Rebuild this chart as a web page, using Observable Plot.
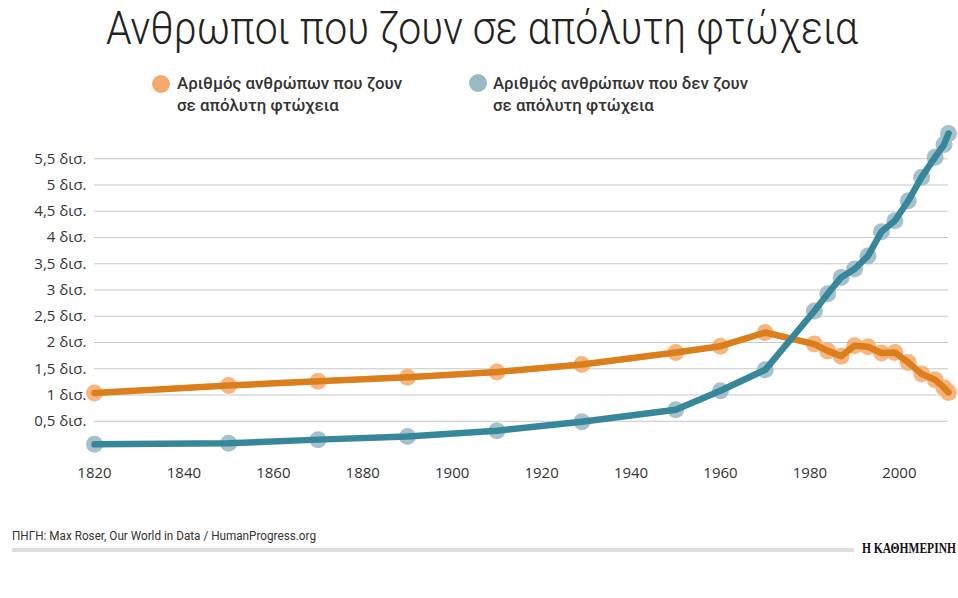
<!DOCTYPE html>
<html>
<head>
<meta charset="utf-8">
<script src="https://cdn.jsdelivr.net/npm/d3@7"></script>
<script src="https://cdn.jsdelivr.net/npm/@observablehq/plot@0.6"></script>
<style>
  html, body { margin: 0; padding: 0; background: #fff; }
  #wrap { position: relative; width: 958px; height: 598px; overflow: hidden; background: #fff; }
  .abs { position: absolute; white-space: nowrap; }
  #title { font-family: Roboto, sans-serif; font-weight: 300; font-size: 47px; line-height: 47px; color: #222; transform-origin: left top; }
  .leg { font-family: Roboto, sans-serif; font-weight: 500; font-size: 16px; line-height: 21.7px; color: #333; transform-origin: left top; }
  .sw { position: absolute; width: 18px; height: 18px; border-radius: 50%; }
  #src { font-family: Roboto, sans-serif; font-size: 12.5px; line-height: 14px; color: #333; transform-origin: left top; }
  #brand { font-family: "Liberation Serif", serif; font-weight: bold; font-size: 14.5px; line-height: 16px; color: #111; transform-origin: left top; }
  #bar { position: absolute; left: 12px; top: 548px; width: 842px; height: 4px; background: #dedede; }
  #chart { position: absolute; left: 0; top: 120px; }
</style>
</head>
<body>
<div id="wrap">
  <div id="title" class="abs">Ανθρωποι που ζουν σε απόλυτη φτώχεια</div>
  <div class="sw" style="left:152px; top:75px; background:#f6a96c;"></div>
  <div id="leg1" class="abs leg" style="left:177px; top:73px;">Αριθμός ανθρώπων που ζουν<br>σε απόλυτη φτώχεια</div>
  <div class="sw" style="left:469px; top:74px; background:#9bb9c5;"></div>
  <div id="leg2" class="abs leg" style="left:493px; top:73px;">Αριθμός ανθρώπων που δεν ζουν<br>σε απόλυτη φτώχεια</div>
  <div id="chart"></div>
  <div id="src" class="abs" style="left:12px; top:529px;">ΠΗΓΗ: Max Roser, Our World in Data / HumanProgress.org</div>
  <div id="bar"></div>
  <div id="brand" class="abs" style="left:862px; top:540px;">Η ΚΑΘΗΜΕΡΙΝΗ</div>
</div>
<script>
// ---- data (billions of people) ----
const years = [1820, 1850, 1870, 1890, 1910, 1929, 1950, 1960, 1970, 1981, 1984, 1987, 1990, 1993, 1996, 1999, 2002, 2005, 2008, 2010, 2011];
const poor = [1.04, 1.18, 1.26, 1.34, 1.44, 1.58, 1.81, 1.93, 2.19, 1.97, 1.84, 1.74, 1.94, 1.92, 1.80, 1.81, 1.62, 1.40, 1.29, 1.14, 1.05];
const notPoor = [0.06, 0.08, 0.15, 0.21, 0.32, 0.49, 0.72, 1.08, 1.48, 2.60, 2.93, 3.24, 3.40, 3.65, 4.11, 4.32, 4.70, 5.15, 5.53, 5.77, 5.98];
const yTicks = [0.5, 1, 1.5, 2, 2.5, 3, 3.5, 4, 4.5, 5, 5.5];
const xTicks = [1820, 1840, 1860, 1880, 1900, 1920, 1940, 1960, 1980, 2000];

const poorData = years.map((yr, i) => ({year: yr, value: poor[i]}));
const notPoorData = years.map((yr, i) => ({year: yr, value: notPoor[i]}));

const chart = Plot.plot({
  width: 958,
  height: 370,
  marginLeft: 94,
  marginRight: 10,
  marginTop: 12,
  marginBottom: 43,
  style: {fontFamily: "'Open Sans', sans-serif", fontSize: "15px", color: "#333", background: "transparent", overflow: "visible"},
  x: {domain: [1820, 2011]},
  y: {domain: [0, 6]},
  marks: [
    Plot.ruleY(yTicks, {stroke: "#c8c8c8", strokeWidth: 1.2}),
    Plot.axisY({ticks: yTicks, tickSize: 0, tickPadding: 8, label: null,
      tickFormat: d => String(d).replace(".", ",") + " δισ."}),
    Plot.axisX({ticks: xTicks, tickSize: 0, tickPadding: 20, label: null, tickFormat: d => String(d)}),
    Plot.dot(poorData, {x: "year", y: "value", r: 8.5, fill: "#f7ad72", fillOpacity: 0.9}),
    Plot.line(poorData, {x: "year", y: "value", stroke: "#db7f1d", strokeWidth: 6.5, strokeLinejoin: "round", strokeLinecap: "round"}),
    Plot.dot(notPoorData, {x: "year", y: "value", r: 8.5, fill: "#9dbac6", fillOpacity: 0.9}),
    Plot.line(notPoorData, {x: "year", y: "value", stroke: "#37879a", strokeWidth: 6.5, strokeLinejoin: "round", strokeLinecap: "round"})
  ]
});
document.getElementById("chart").appendChild(chart);

// fit text blocks to the measured widths of the reference
function fit(id, targetWidth, centerX) {
  const el = document.getElementById(id);
  const w = el.getBoundingClientRect().width;
  const s = targetWidth / w;
  el.style.transform = `scaleX(${s})`;
  if (centerX !== undefined) el.style.left = (centerX - targetWidth / 2) + "px";
}
fit("title", 752, 482);
document.getElementById("title").style.top = "4px";
fit("leg1", 225);
fit("leg2", 255);
fit("src", 304);
fit("brand", 94);
</script>
</body>
</html>
